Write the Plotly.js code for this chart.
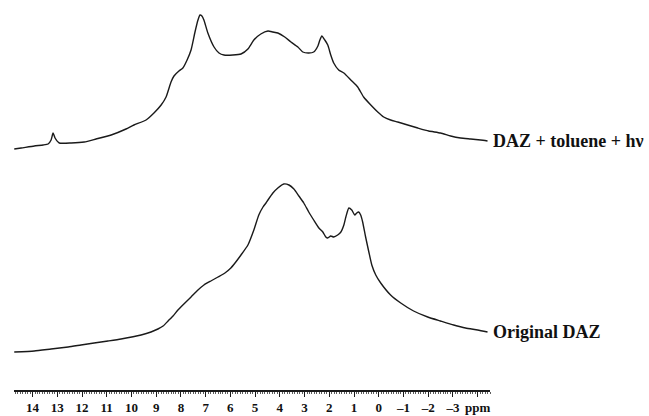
<!DOCTYPE html>
<html>
<head>
<meta charset="utf-8">
<script src="https://cdn.plot.ly/plotly-3.0.1.min.js"></script>
<style>html,body{margin:0;padding:0;background:#fff;}#chart{width:649px;height:416px;}</style>
</head>
<body>
<div id="chart"></div>
<script>
// Chemical shift (ppm) and intensity (arbitrary units, relative to each spectrum's baseline)
const topPpm = [14.74,14.46,13.93,13.57,13.37,13.25,13.17,13.09,12.92,12.44,11.91,11.43,10.82,10.22,9.90,9.41,9.09,8.80,8.60,8.40,8.28,8.08,7.92,7.75,7.59,7.43,7.31,7.23,7.15,7.07,6.91,6.66,6.46,6.26,5.90,5.57,5.29,5.05,4.77,4.48,4.28,4.08,3.80,3.55,3.27,3.07,2.83,2.63,2.46,2.38,2.30,2.18,2.06,1.94,1.82,1.62,1.41,1.13,0.85,0.61,0.32,0.04,-0.20,-0.48,-0.77,-1.17,-1.58,-2.02,-2.50,-2.91,-3.31,-3.72,-4.12,-4.40];
const topInt = [1,2,4,5,6,10,17,12,7,7,8,11,15,21,25,30,37,45,53,68,74,79,82,90,100,118,130,135,134,130,117,103,97,95,95,96,101,110,116,119,118,117,113,108,103,98,97,98,104,110,114,110,105,95,87,80,77,70,63,53,45,38,33,30,28,25,22,19,17,14,12,11,10,9];

const botPpm = [14.74,13.93,13.25,12.56,12.04,11.51,10.95,10.42,9.61,9.21,8.93,8.72,8.52,8.32,8.12,7.88,7.59,7.31,7.07,6.79,6.50,6.22,5.98,5.78,5.57,5.29,5.05,4.85,4.68,4.56,4.48,4.28,4.08,3.84,3.63,3.43,3.23,3.03,2.83,2.63,2.42,2.26,2.14,2.06,1.94,1.82,1.66,1.53,1.41,1.33,1.21,1.09,0.97,0.89,0.81,0.73,0.65,0.53,0.40,0.28,0.12,-0.08,-0.48,-0.89,-1.41,-1.98,-2.50,-3.03,-3.51,-4.00,-4.40];
const botInt = [0,1,3,5,7,9,11,13,17,20,23,26,31,36,42,48,55,62,67,71,75,79,84,90,97,107,122,137,145,149,152,159,164,168,167,163,156,149,140,132,124,120,115,114,116,115,117,120,127,135,144,142,137,139,140,137,130,115,100,87,77,69,57,49,41,35,31,27,24,22,20];

const tickVals = [14,13,12,11,10,9,8,7,6,5,4,3,2,1,0,-1,-2,-3,-4];
const tickLabels = ["14","13","12","11","10","9","8","7","6","5","4","3","2","1","0","\u20131","\u20132","\u20133","ppm"];
const seriesNames = ["DAZ + toluene + h\u03bd", "Original DAZ"];

// stacking offsets (layout only)
const topOffset = 240, botOffset = 38;

const lineStyle = {color: '#1a1a1a', width: 1.4, shape: 'spline', smoothing: 0.5};
const traces = [
  {x: topPpm, y: topInt.map(v => v + topOffset), mode: 'lines', line: lineStyle, name: seriesNames[0], hoverinfo: 'skip'},
  {x: botPpm, y: botInt.map(v => v + botOffset), mode: 'lines', line: lineStyle, name: seriesNames[1], hoverinfo: 'skip'}
];

const serif = 'Liberation Serif, Times New Roman, serif';
const layout = {
  width: 649, height: 416,
  margin: {l: 14, r: 159, t: 0, b: 26, pad: 0},
  paper_bgcolor: '#fff', plot_bgcolor: '#fff',
  showlegend: false,
  xaxis: {
    range: [14.75, -4.5],
    showgrid: false, zeroline: false,
    showline: true, linecolor: '#1a1a1a', linewidth: 1.5,
    ticks: 'outside', ticklen: 5, tickwidth: 1, tickcolor: '#1a1a1a',
    tickmode: 'array', tickvals: tickVals, ticktext: tickLabels,
    tickfont: {family: serif, size: 13, color: '#111', weight: 'bold'},
    minor: {dtick: 0.1, ticks: 'outside', ticklen: 2, tickwidth: 0.8, tickcolor: '#333', showgrid: false},
    fixedrange: true
  },
  yaxis: {range: [0, 390], visible: false, showgrid: false, zeroline: false, fixedrange: true},
  annotations: [
    {xref: 'paper', x: 1, xanchor: 'left', xshift: 1, yref: 'y', y: topInt[topInt.length-1] + topOffset, yanchor: 'middle',
     text: '<b>' + seriesNames[0] + '</b>', showarrow: false, font: {family: serif, size: 18, color: '#111'}},
    {xref: 'paper', x: 1, xanchor: 'left', xshift: 1, yref: 'y', y: botInt[botInt.length-1] + botOffset, yanchor: 'middle',
     text: '<b>' + seriesNames[1] + '</b>', showarrow: false, font: {family: serif, size: 18, color: '#111'}}
  ]
};

Plotly.newPlot('chart', traces, layout, {staticPlot: true, displayModeBar: false});
</script>
</body>
</html>
